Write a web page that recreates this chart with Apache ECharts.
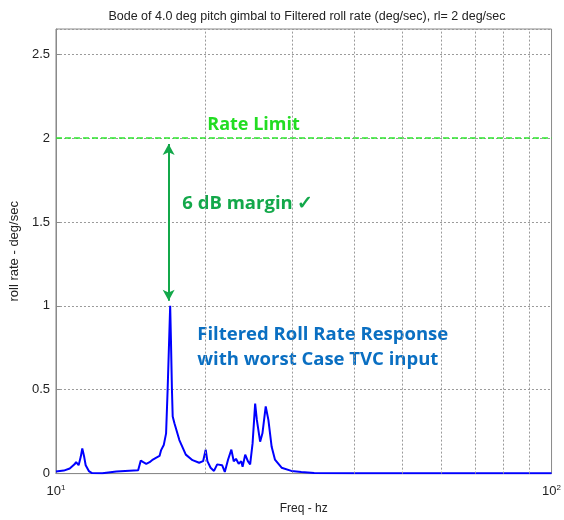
<!DOCTYPE html>
<html>
<head>
<meta charset="utf-8">
<script src="https://cdn.jsdelivr.net/npm/echarts@6/dist/echarts.min.js"></script>
<style>html,body{margin:0;padding:0;background:#fff}#c{width:564px;height:520px}</style>
</head>
<body>
<div id="c"></div>
<script>
// Data
var freq = [10.00,10.37,10.66,10.90,10.98,11.11,11.22,11.30,11.40,11.48,11.65,11.82,12.40,12.47,13.24,13.30,14.65,14.71,14.83,15.00,15.21,15.45,15.69,15.91,16.18,16.30,16.50,16.68,16.80,16.92,17.00,17.06,17.14,17.20,17.34,17.74,18.28,18.86,19.45,19.81,20.05,20.21,20.51,20.84,21.15,21.64,21.91,22.25,22.59,22.84,23.08,23.37,23.65,23.80,24.09,24.39,24.65,24.93,25.23,25.43,25.82,26.10,26.50,26.83,27.24,27.66,28.53,29.85,31.26,33.19,40.00,100.00];
var rollRate = [0.012,0.018,0.030,0.055,0.068,0.050,0.100,0.150,0.100,0.050,0.015,0.003,0.002,0.010,0.012,0.018,0.020,0.030,0.078,0.068,0.058,0.068,0.084,0.094,0.105,0.140,0.170,0.240,0.500,0.800,1.000,0.800,0.500,0.340,0.300,0.200,0.113,0.080,0.065,0.074,0.143,0.074,0.035,0.016,0.055,0.050,0.010,0.084,0.143,0.074,0.088,0.059,0.074,0.040,0.113,0.074,0.055,0.180,0.417,0.320,0.190,0.240,0.400,0.320,0.160,0.084,0.035,0.016,0.010,0.004,0.002,0.002];
var rateLimit = 2;
var minorFreqs = [20,30,40,50,60,70,80,90];
var yTicks = [0,0.5,1,1.5,2,2.5];
var marginTop = 1.965, marginBottom = 1.03, marginFreq = 16.88;

var chart = echarts.init(document.getElementById('c'), null, {renderer:'canvas'});
var lineData = freq.map(function(f,i){return [f, rollRate[i]];});
var option = {
  animation:false,
  backgroundColor:'#fff',
  title:{
    text:'Bode of 4.0 deg pitch gimbal to Filtered roll rate (deg/sec), rl= 2 deg/sec',
    left:302, textAlign:'center', top:5,
    textStyle:{fontFamily:'Liberation Sans', fontSize:12.5, fontWeight:'normal', color:'#222'}
  },
  grid:{left:52, right:11, top:29, bottom:39, show:true, borderColor:'#8a8a8a', borderWidth:1, containLabel:false},
  xAxis:{
    type:'log', logBase:10, min:10, max:100,
    name:'Freq - hz', nameLocation:'middle', nameGap:25,
    nameTextStyle:{fontFamily:'Liberation Sans', fontSize:12, color:'#222'},
    axisLine:{show:true, lineStyle:{color:'#8a8a8a'}},
    axisTick:{show:false},
    splitLine:{show:false},
    axisLabel:{
      fontFamily:'Liberation Sans', fontSize:12, color:'#222', margin:10,
      formatter:function(v){ var e = Math.round(Math.log10(v)); return '{b|10}{s|' + e + '}'; },
      rich:{b:{fontFamily:'Liberation Sans', fontSize:13, color:'#222'}, s:{fontFamily:'Liberation Sans', fontSize:8, color:'#222', verticalAlign:'top', padding:[0,0,8,0]}}
    }
  },
  yAxis:{
    type:'value', min:0, max:2.65, interval:0.5,
    name:'roll rate - deg/sec', nameLocation:'middle', nameGap:31,
    nameTextStyle:{fontFamily:'Liberation Sans', fontSize:13, color:'#222'},
    axisLine:{show:true, lineStyle:{color:'#8a8a8a'}},
    axisTick:{show:true, inside:true, length:4, lineStyle:{color:'#8a8a8a'}},
    axisLabel:{fontFamily:'Liberation Sans', fontSize:13, color:'#222', margin:6, showMaxLabel:false,
      formatter:function(v){ return yTicks.indexOf(v) >= 0 ? String(v) : ''; }},
    splitLine:{show:true, lineStyle:{color:'#9a9a9a', type:[2,2], width:1}}
  },
  series:[
    {
      type:'line', name:'grid', data:[], z:1, silent:true,
      markLine:{silent:true, symbol:['none','none'], label:{show:false},
        lineStyle:{color:'#9a9a9a', type:[2,2], width:1},
        data: minorFreqs.map(function(f){return {xAxis:f};})}
    },
    {
      type:'line', name:'Rate Limit', data:[[10,rateLimit],[100,rateLimit]], showSymbol:false, z:3,
      lineStyle:{color:'#2ee62e', width:1.5, type:[6,3]},
      markLine:{silent:true, symbol:['arrow','arrow'], symbolSize:[9,11], label:{show:false},
        lineStyle:{color:'#13a84a', width:2, type:'solid'},
        data:[[{coord:[marginFreq, marginTop]},{coord:[marginFreq, marginBottom]}]]}
    },
    {
      type:'line', name:'roll rate', data:lineData, showSymbol:false, z:4,
      lineStyle:{color:'#0000ff', width:2}
    }
  ]
};
chart.setOption(option);

function px(f, v){ return chart.convertToPixel({xAxisIndex:0, yAxisIndex:0}, [f, v]); }
var pRate = px(20.2, 2.08), pMargin = px(17.99, 1.61), pBlue1 = px(19.28, 0.827), pBlue2 = px(19.28, 0.68);
chart.setOption({graphic:[
  {type:'text', x:pRate[0], y:pRate[1], style:{text:'Rate Limit', fill:'#22dd22', font:'bold 18px "Open Sans"', textVerticalAlign:'middle'}},
  {type:'text', x:pMargin[0], y:pMargin[1], style:{text:'6 dB margin \u2713', fill:'#13a84a', font:'bold 18.5px "Open Sans"', textVerticalAlign:'middle'}},
  {type:'text', x:pBlue1[0], y:pBlue1[1], style:{text:'Filtered Roll Rate Response', fill:'#0a6fc2', font:'bold 18.5px "Open Sans"', textVerticalAlign:'middle'}},
  {type:'text', x:pBlue2[0], y:pBlue2[1], style:{text:'with worst Case TVC input', fill:'#0a6fc2', font:'bold 18.5px "Open Sans"', textVerticalAlign:'middle'}}
]});
</script>
</body>
</html>
